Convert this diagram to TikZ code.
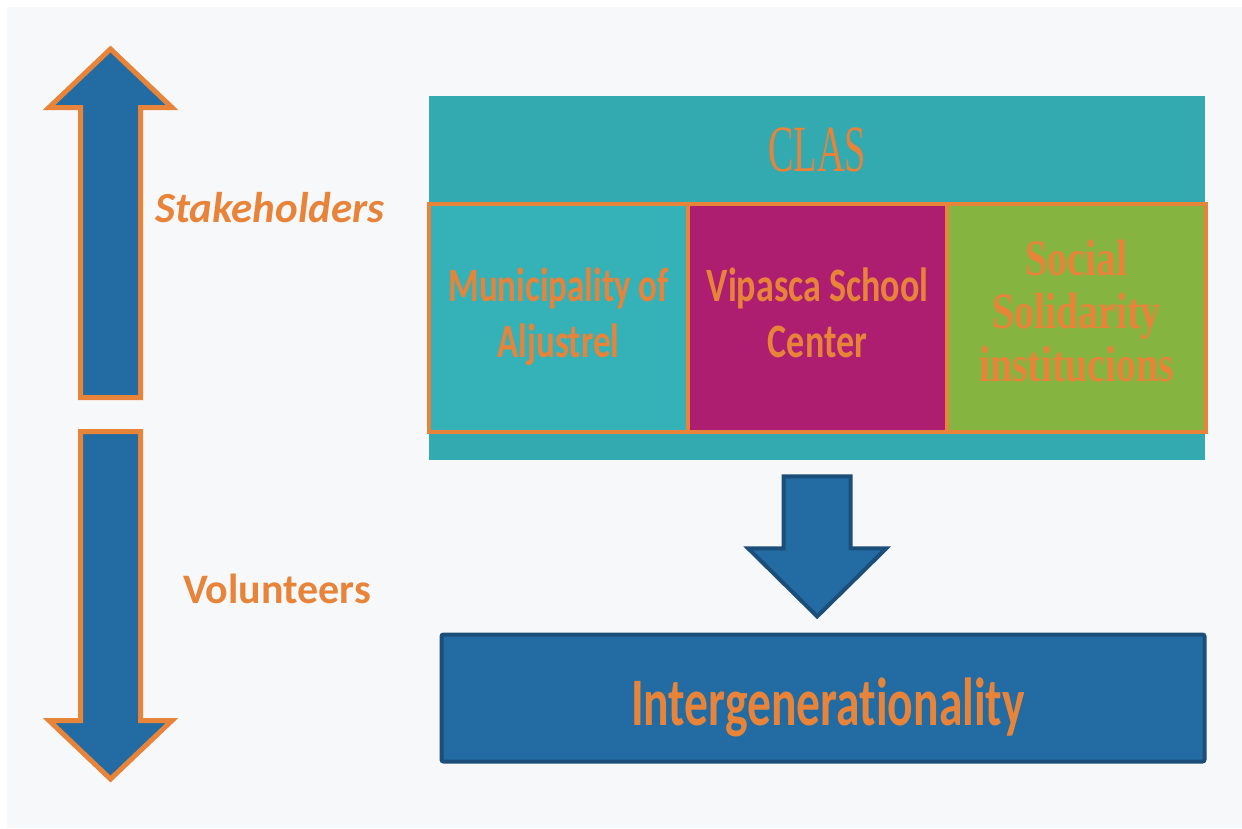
\documentclass[tikz,border=0pt]{standalone}
\usepackage{fontspec}
\usepackage{graphicx}
\setmainfont{Carlito}[Ligatures={NoCommon,NoContextual}]
\newfontfamily\serifcond{Liberation Serif}
\usetikzlibrary{calc,positioning}

\definecolor{lineorange}{HTML}{E8843A}
\definecolor{arrowblue}{HTML}{226CA3}
\definecolor{darkblue}{HTML}{1B4E79}
\definecolor{panelgray}{HTML}{F7F8FA}
\definecolor{clasteal}{HTML}{33A9B0}
\definecolor{munteal}{HTML}{35B1B8}
\definecolor{vipmagenta}{HTML}{AD1E70}
\definecolor{socgreen}{HTML}{85B441}

% squeezed multi-line text, like the condensed labels of the slide
\newcommand\squeeze[2]{\scalebox{#1}[1]{\begin{tabular}{@{}c@{}}#2\end{tabular}}}

\tikzset{
    member/.style={draw=lineorange,line width=4pt,minimum width=259pt,minimum height=228pt,
        inner sep=0pt,outer sep=0pt,text=lineorange,font=\bfseries\fontsize{48}{56}\selectfont},
    sidearrow/.style={fill=arrowblue,draw=lineorange,line width=5pt,miter limit=10},
    midarrow/.style={fill=arrowblue,draw=darkblue,line width=4pt,miter limit=10},
    sidelabel/.style={anchor=base,text=lineorange,font=\bfseries\fontsize{43}{50}\selectfont},
}

\begin{document}
\begin{tikzpicture}[x=1pt,y=-1pt]
    \useasboundingbox (0,0) rectangle (1242,828);
    \fill[white] (0,0) rectangle (1242,828);
    \fill[panelgray] (7,7) rectangle (1242,828);

    % left: up and down arrows
    \draw[sidearrow] (80.5,397.5)--(80.5,107.5)--(49,107.5)--(110.5,49)--(172,107.5)--(140.5,107.5)--(140.5,397.5)--cycle;
    \draw[sidearrow] (80.5,431.5)--(140.5,431.5)--(140.5,720.5)--(172,720.5)--(110.5,779)--(49,720.5)--(80.5,720.5)--cycle;
    \node[sidelabel] (stake) at (270,222) {\itshape Stakeholders};
    \node[sidelabel,font=\bfseries\fontsize{42}{50}\selectfont] (volun) at (277,603) {Volunteers};

    % CLAS and its members
    \node[fill=clasteal,minimum width=776pt,minimum height=364pt,inner sep=0pt,anchor=north west] (clas) at (429,96) {};
    \node[anchor=base,text=lineorange,font=\serifcond\fontsize{66}{70}\selectfont] (clastitle) at (817,171) {\scalebox{0.58}[1]{CLAS}};
    \node[member,fill=munteal,anchor=north west] (mun) at (429,204) {\squeeze{0.73}{Municipality of\\Aljustrel}};
    \node[member,fill=vipmagenta,right=0pt of mun] (vip) {\squeeze{0.75}{Vipasca School\\Center}};
    \node[member,fill=socgreen,right=0pt of vip,font=\serifcond\bfseries\fontsize{51}{53}\selectfont] (soc) {\squeeze{0.78}{Social\\Solidarity\\institucions}};

    % result
    \node[fill=arrowblue,draw=darkblue,line width=4pt,rounded corners=2pt,minimum width=763pt,minimum height=127pt,
        inner sep=0pt,text=lineorange,text height=54pt,text depth=0pt,font=\bfseries\fontsize{68}{70}\selectfont] (intergen) at (823,698)
        {\hspace*{10pt}\scalebox{0.7}[1]{Intergenerationality}};

    \coordinate (top) at ($(clas.south)+(0,16)$);
    \draw[midarrow] ($(top)+(-33.5,0)$)--($(top)+(33.5,0)$)--($(top)+(33.5,72)$)--($(top)+(69,72)$)
        --($(top)+(0,140)$)--($(top)+(-69,72)$)--($(top)+(-33.5,72)$)--cycle;
\end{tikzpicture}
\end{document}
